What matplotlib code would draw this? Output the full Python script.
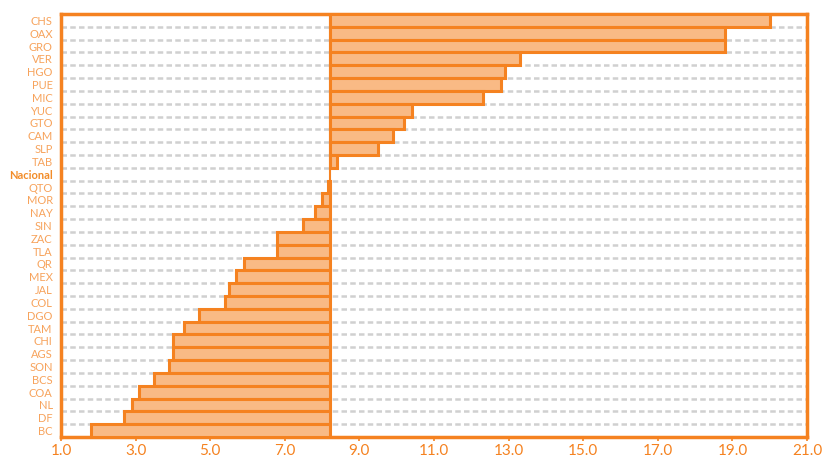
import numpy as np
import matplotlib.pyplot as plt

plt.rcParams['font.family'] = ['Lato', 'DejaVu Sans']

estados = ['CHS', 'OAX', 'GRO', 'VER', 'HGO', 'PUE', 'MIC', 'YUC', 'GTO', 'CAM', 'SLP', 'TAB',
           'Nacional', 'QTO', 'MOR', 'NAY', 'SIN', 'ZAC', 'TLA', 'QR', 'MEX', 'JAL', 'COL',
           'DGO', 'TAM', 'CHI', 'AGS', 'SON', 'BCS', 'COA', 'NL', 'DF', 'BC']
valores = [20.0, 18.8, 18.8, 13.3, 12.9, 12.8, 12.3, 10.4, 10.2, 9.9, 9.5, 8.4,
           8.2, 8.15, 8.0, 7.8, 7.5, 6.8, 6.8, 5.9, 5.7, 5.5, 5.4,
           4.7, 4.3, 4.0, 4.0, 3.9, 3.5, 3.1, 2.9, 2.7, 1.8]
nacional = 8.2

naranja = '#F58220'
relleno = '#F9BA85'
texto = '#F7A35C'

fig = plt.figure(figsize=(8.23, 4.58), dpi=100)
ax = fig.add_axes([0.0741, 0.0459, 0.9065, 0.9235])

y = np.arange(len(estados))[::-1]
vals = np.array(valores)

# lineas punteadas entre categorias
for b in np.arange(0.5, len(estados) - 1, 1.0):
    ax.axhline(b, color='#D0D0D0', lw=1.8, ls=(0, (2.2, 1.3)), zorder=1)

mask = np.array([e != 'Nacional' for e in estados])
ax.barh(y[mask], vals[mask] - nacional, left=nacional, height=1.0,
        color=relleno, edgecolor=naranja, linewidth=2.2, zorder=3)
ax.axvline(nacional, color=naranja, lw=1.5, zorder=2)

ax.set_xlim(1, 21)
ax.set_ylim(-0.5, len(estados) - 0.5)
ax.set_xticks(np.arange(1, 22, 2))
ax.set_xticklabels([f'{v:.1f}' for v in np.arange(1, 22, 2)])
ax.set_yticks(y)
ax.set_yticklabels(estados)

ax.tick_params(axis='x', colors=naranja, labelsize=11, length=3, width=1.2, pad=2)
ax.tick_params(axis='y', length=0, labelsize=8, labelcolor=texto, pad=6)
for lbl in ax.get_yticklabels():
    if lbl.get_text() == 'Nacional':
        lbl.set_fontweight('bold')
        lbl.set_color('#F28C28')

for s in ax.spines.values():
    s.set_color(naranja)
    s.set_linewidth(2.5)

fig.savefig('out.png', dpi=100)
